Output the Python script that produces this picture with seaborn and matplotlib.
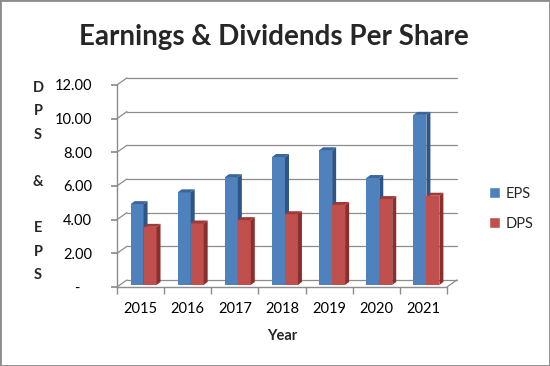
import numpy as np
import pandas as pd
import seaborn as sns
import matplotlib.pyplot as plt
from matplotlib.patches import Polygon, Rectangle
from matplotlib.transforms import offset_copy

years = ["2015", "2016", "2017", "2018", "2019", "2020", "2021"]
eps = [4.8, 5.5, 6.4, 7.6, 8.0, 6.35, 10.1]
dps = [3.45, 3.65, 3.85, 4.2, 4.75, 5.1, 5.3]
series = ["EPS", "DPS"]
colors = ["#4F81BD", "#C0504D"]
side_colors = ["#2F5587", "#8A2F2C"]
top_colors = ["#3A669C", "#A13A37"]
yticks = [0, 2, 4, 6, 8, 10, 12]

df = pd.DataFrame({
    "Year": years * 2,
    "Value": eps + dps,
    "Series": ["EPS"] * len(years) + ["DPS"] * len(years),
})

sns.set_theme(style="white")
plt.rcParams['font.family'] = ['Lato', 'DejaVu Sans']

fig = plt.figure(figsize=(5.5, 3.66), dpi=100)
ax = fig.add_axes([0.2127, 0.216, 0.6, 0.552])
sns.barplot(data=df, x="Year", y="Value", hue="Series", hue_order=series,
            palette=colors, width=0.55, saturation=1, ax=ax)
ax.set_xlim(-0.5, len(years) - 0.5)
ax.set_ylim(0, 12)

# pixel -> data conversion, for the fake 3d depth
p0 = ax.transData.transform((0, 0))
p1 = ax.transData.transform((1, 1))
px_x, px_y = p1 - p0
bdx, bdy = 4 / px_x, 3 / px_y      # bar depth
wdx, wdy = 10 / px_x, 7 / px_y     # wall depth

bar_tr = offset_copy(ax.transData, fig=fig, x=3, y=2, units="dots")
for i, cont in enumerate(ax.containers):
    for p in cont.patches:
        x, w, h = p.get_x(), p.get_width(), p.get_height()
        p.set_transform(bar_tr)
        p.set_zorder(3 + i)
        p.set_edgecolor("none")
        side = Polygon([(x + w, 0), (x + w, h), (x + w + bdx, h + bdy), (x + w + bdx, bdy)],
                       closed=True, facecolor=side_colors[i], edgecolor="none",
                       transform=bar_tr, zorder=3 + i, clip_on=False)
        top = Polygon([(x, h), (x + w, h), (x + w + bdx, h + bdy), (x + bdx, h + bdy)],
                      closed=True, facecolor=top_colors[i], edgecolor="none",
                      transform=bar_tr, zorder=3 + i, clip_on=False)
        ax.add_patch(side)
        ax.add_patch(top)

# back wall gridlines
xl, xr = ax.get_xlim()
gcol = "#8C8C8C"
for v in yticks:
    ax.plot([xl, xl + wdx], [v, v + wdy], color=gcol, lw=0.9, zorder=1, clip_on=False)
    ax.plot([xl + wdx, xr + wdx], [v + wdy, v + wdy], color=gcol, lw=0.9, zorder=1, clip_on=False)
ax.plot([xr, xr + wdx], [0, wdy], color=gcol, lw=0.9, zorder=1, clip_on=False)

for s in ["top", "right"]:
    ax.spines[s].set_visible(False)
for s in ["left", "bottom"]:
    ax.spines[s].set_color(gcol)
    ax.spines[s].set_linewidth(1.0)

ax.set_yticks(yticks, [f"{v:.2f}" if v else "-   " for v in yticks])
ax.set_xticks(range(len(years)), years)
ax.set_xticks(np.arange(-0.5, len(years), 1), minor=True)
ax.tick_params(axis="y", left=True, length=4, color=gcol, labelsize=10.5, pad=14, labelcolor="black")
ax.tick_params(axis="x", which="major", length=0, labelsize=10.5, pad=11, labelcolor="black")
ax.tick_params(axis="x", which="minor", bottom=True, length=5, color=gcol)
ax.set_xlabel("Year", fontsize=10.5, fontweight="bold", labelpad=9)
ax.set_ylabel("")

handles, labels = ax.get_legend_handles_labels()
ax.legend(handles, labels, loc="center left", bbox_to_anchor=(0.866, 0.43),
          bbox_transform=fig.transFigure, frameon=False, fontsize=10.5,
          handlelength=0.7, handleheight=0.7, handletextpad=0.4, labelspacing=1.1)

fig.text(0.498, 0.898, "Earnings & Dividends Per Share", ha="center", va="center",
         fontsize=20, fontweight="bold")
fig.text(0.069, 0.504, "D\nP\nS\n\n&\n\nE\nP\nS", ha="center", va="center",
         fontsize=10.5, fontweight="bold", linespacing=1.85)

fig.patches.append(Rectangle((0, 0), 1, 1, transform=fig.transFigure, fill=False,
                             edgecolor="#8C8C8C", lw=2))

fig.savefig("out.png", dpi=100)
